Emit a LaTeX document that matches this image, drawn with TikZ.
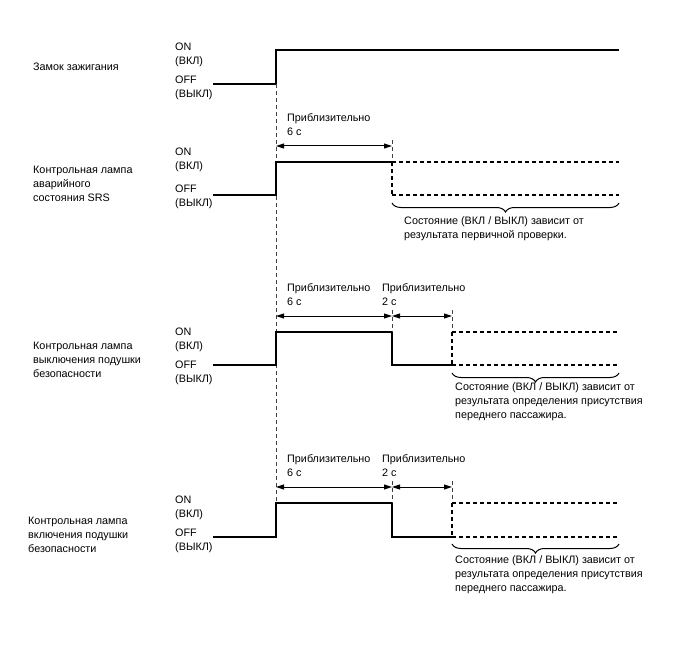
\documentclass[tikz,border=0pt]{standalone}
\usepackage{fontspec}
\setmainfont{Liberation Sans}
\usetikzlibrary{arrows.meta, decorations.pathreplacing, positioning}
\tikzset{
	txtnode/.style={
			anchor=west,
			align=left,
			inner sep=0pt,
			font=\fontsize{10.8}{14}\selectfont
		},
	signal/.style={
			line width=1.5pt
		},
	stateline/.style={
			line width=1.2pt,
			dash pattern=on 4pt off 3pt
		},
	guide/.style={
			line width=0.7pt,
			dash pattern=on 4pt off 3pt,
			black!75
		},
	timearrow/.style={
			line width=1pt,
			{Triangle[length=8pt,width=5pt]}-{Triangle[length=8pt,width=5pt]}
		},
	statebrace/.style={
			line width=1pt,
			decorate,
			decoration={brace, mirror, amplitude=9pt}
		}
}

\begin{document}
\begin{tikzpicture}[x=1pt, y=-1pt]
\useasboundingbox (0,0) rectangle (688,658);

% ignition switch
\node[txtnode] (sw) at (33,67) {Замок зажигания};
\node[txtnode] (swon) at (175,55) {ON\\(ВКЛ)};
\node[txtnode] (swoff) at (175,88) {OFF\\(ВЫКЛ)};
\draw[signal] (213,84) -- (276,84) -- (276,50) -- (619,50);
\draw[guide] (276,84) -- (276,503);

% SRS warning lamp
\node[txtnode] (srs) at (33,184) {Контрольная лампа\\аварийного\\состояния SRS};
\node[txtnode] (srson) at (175,160) {ON\\(ВКЛ)};
\node[txtnode] (srsoff) at (175,197) {OFF\\(ВЫКЛ)};
\draw[signal] (213,195) -- (276,195) -- (276,162) -- (392,162);
\draw[guide] (392,140) -- (392,162);
\draw[stateline] (392,162) -- (392,195);
\draw[stateline] (392,162) -- (619,162);
\draw[stateline] (392,195) -- (619,195);
\coordinate (a1) at (276,146);
\coordinate (b1) at (392,146);
\draw[timearrow] (a1) -- (b1);
\node[txtnode] (t1) at (287,125) {Приблизительно\\6 с};
\coordinate (c1) at (392,203);
\coordinate (d1) at (619,203);
\draw[statebrace] (c1) -- (d1);
\node[txtnode] (s1) at (404,229) {Состояние (ВКЛ / ВЫКЛ) зависит от\\результата первичной проверки.};

% airbag off lamp
\node[txtnode] (off) at (33,360) {Контрольная лампа\\выключения подушки\\безопасности};
\node[txtnode] (offon) at (175,340) {ON\\(ВКЛ)};
\node[txtnode] (offoff) at (175,373) {OFF\\(ВЫКЛ)};
\draw[signal] (213,365) -- (276,365) -- (276,332) -- (392,332) -- (392,365) -- (452,365);
\draw[guide] (392,310) -- (392,332);
\draw[guide] (452,310) -- (452,332);
\draw[stateline] (452,332) -- (452,365);
\draw[stateline] (452,332) -- (619,332);
\draw[stateline] (452,365) -- (619,365);
\coordinate (a2) at (276,316);
\coordinate (b2) at (392,316);
\coordinate (e2) at (452,316);
\draw[timearrow] (a2) -- (b2);
\draw[timearrow] (b2) -- (e2);
\node[txtnode] (t2) at (287,295) {Приблизительно\\6 с};
\node[txtnode] (u2) at (382,295) {Приблизительно\\2 с};
\coordinate (c2) at (452,373);
\coordinate (d2) at (619,373);
\draw[statebrace] (c2) -- (d2);
\node[txtnode] (s2) at (455,402) {Состояние (ВКЛ / ВЫКЛ) зависит от\\результата определения присутствия\\переднего пассажира.};

% airbag on lamp
\node[txtnode] (on) at (28,535) {Контрольная лампа\\включения подушки\\безопасности};
\node[txtnode] (onon) at (175,508) {ON\\(ВКЛ)};
\node[txtnode] (onoff) at (175,541) {OFF\\(ВЫКЛ)};
\draw[signal] (213,537) -- (276,537) -- (276,503) -- (392,503) -- (392,537) -- (452,537);
\draw[guide] (392,481) -- (392,503);
\draw[guide] (452,481) -- (452,503);
\draw[stateline] (452,503) -- (452,537);
\draw[stateline] (452,503) -- (619,503);
\draw[stateline] (452,537) -- (619,537);
\coordinate (a3) at (276,487);
\coordinate (b3) at (392,487);
\coordinate (e3) at (452,487);
\draw[timearrow] (a3) -- (b3);
\draw[timearrow] (b3) -- (e3);
\node[txtnode] (t3) at (287,466) {Приблизительно\\6 с};
\node[txtnode] (u3) at (382,466) {Приблизительно\\2 с};
\coordinate (c3) at (452,544);
\coordinate (d3) at (619,544);
\draw[statebrace] (c3) -- (d3);
\node[txtnode] (s3) at (455,575) {Состояние (ВКЛ / ВЫКЛ) зависит от\\результата определения присутствия\\переднего пассажира.};

\end{tikzpicture}
\end{document}
